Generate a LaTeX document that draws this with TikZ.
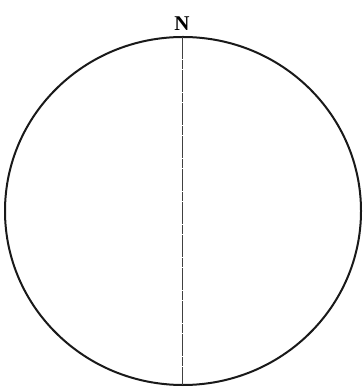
\documentclass[tikz,border=0pt]{standalone}
\usepackage{fontspec}
\setmainfont{Liberation Serif}
\usepackage{tikz}
\usetikzlibrary{positioning}

\begin{document}
\begin{tikzpicture}[
  x=1pt,y=1pt,
  rim/.style={draw=black!90,line width=2pt},
  meridian/.style={draw=black!75,line width=1pt,dash pattern=on 22pt off 1pt on 9pt off 1pt},
  pole/.style={font=\fontsize{21}{23}\selectfont\bfseries,inner sep=0pt}
]
\useasboundingbox (0,0) rectangle (363,387);
\coordinate (ctr) at (183,176);
\draw[rim] (ctr) ellipse [x radius=178,y radius=174];
\coordinate (north) at (182,350);
\coordinate (south) at (182,2);
\node[pole,above=6pt of north] (nlabel) {N};
\draw[meridian] (north)--(south);
\end{tikzpicture}
\end{document}
